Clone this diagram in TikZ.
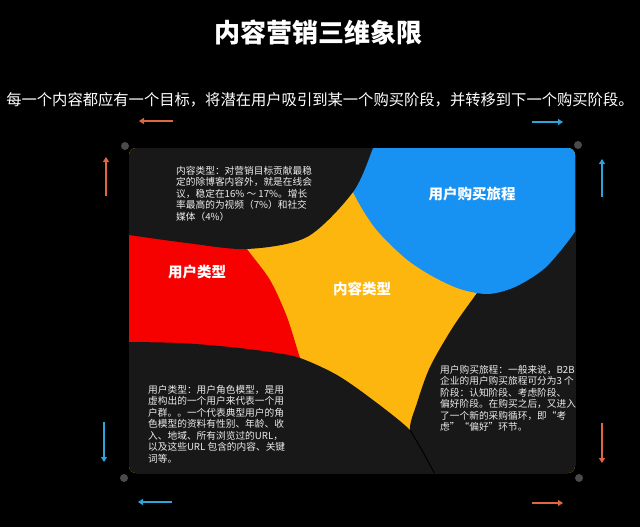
\documentclass[tikz,border=0pt]{standalone}
\usepackage{fontspec}
\setmainfont{Noto Sans CJK SC}
\usetikzlibrary{arrows.meta}
\definecolor{panelc}{HTML}{181818}
\definecolor{yelc}{HTML}{FDB60D}
\definecolor{redc}{HTML}{F70000}
\definecolor{bluec}{HTML}{1791F2}
\definecolor{arrOr}{HTML}{E0663E}
\definecolor{arrBl}{HTML}{2EA3DC}
\definecolor{dotc}{HTML}{4A4A4A}
\definecolor{txtc}{HTML}{EDEDED}
\begin{document}
\begin{tikzpicture}[x=1pt,y=-1pt,
  lbl/.style={text=white,font=\fontsize{14.5}{16}\selectfont\bfseries,inner sep=0},
  blk/.style={text=txtc,font=\fontsize{9.7}{11.5}\selectfont,align=left,anchor=north west,inner sep=0},
  arr/.style={line width=1.6pt,-{Triangle[length=5pt,width=6pt]}},
  dotn/.style={circle,fill=dotc,minimum size=8pt,inner sep=0}]
\useasboundingbox (0,0) rectangle (640,527);
\fill[black] (0,0) rectangle (640,527);

% title and subtitle
\node[text=white,font=\fontsize{26}{30}\selectfont\bfseries,inner sep=0] (title) at (318,32) {内容营销三维象限};
\node[text=white,font=\fontsize{15.3}{18}\selectfont,inner sep=0] (sub) at (320,100) {每一个内容都应有一个目标，将潜在用户吸引到某一个购买阶段，并转移到下一个购买阶段。};

% panel
\fill[panelc,rounded corners=7pt] (129,148) rectangle (575,473);
\begin{scope}
\clip[rounded corners=7pt] (129,148) rectangle (575,473);
\fill[yelc] (120,140) rectangle (590,480);
% red
\fill[redc] (120,200) -- (240,200) -- plot[smooth] coordinates {(240,236) (247,249) (270,280) (287,317) (300,358) (310,385)} -- (120,385) -- cycle;
% dark bottom right
\fill[panelc] (495,200) -- (489,276) -- plot[smooth] coordinates {(489,276) (477,293) (453,327) (430,367) (417,403) (410,430) (423,452) (438,480)} -- (590,480) -- (590,200) -- cycle;
% blue
\fill[bluec] (330,140) -- (590,140) -- (590,215) -- plot[smooth] coordinates {(584,215) (572,236) (545,268) (515,287) (488,294) (460,289) (432,276) (405,258) (375,228) (353,192) (343,160)} -- cycle;
% dark top left
\fill[panelc] (120,140) -- (120,235) -- plot[smooth] coordinates {(129,235) (187,243) (247,249) (307,237) (353,192) (373,148) (376,140)} -- cycle;
% dark bottom left
\fill[panelc] (120,342) -- plot[smooth] coordinates {(129,342) (180,343) (230,347) (270,352) (300,358) (337,375) (373,400) (410,430) (423,452) (438,480)} -- (120,480) -- cycle;
\draw[black,line width=1pt] plot[smooth] coordinates {(410,430) (423,452) (438,480)};
\end{scope}

% labels
\node[lbl] (uType) at (197,272) {用户类型};
\node[lbl] (cType) at (362,289) {内容类型};
\node[lbl] (journey) at (472,194) {用户购买旅程};

% text blocks
\node[blk] (b1) at (176,166) {内容类型：对营销目标贡献最稳\\定的除博客内容外，就是在线会\\议，稳定在16\% ～ 17\%。增长\\率最高的为视频（7\%）和社交\\媒体（4\%）};
\node[blk] (b2) at (148,385) {用户类型：用户角色模型，是用\\虚构出的一个用户来代表一个用\\户群。。一个代表典型用户的角\\色模型的资料有性别、年龄、收\\入、地域、所有浏览过的URL，\\以及这些URL 包含的内容、关键\\词等。};
\node[blk] (b3) at (440,365) {用户购买旅程：一般来说，B2B\\企业的用户购买旅程可分为3 个\\阶段：认知阶段、考虑阶段、\\偏好阶段。在购买之后，又进入\\了一个新的采购循环，即“考\\虑”“偏好”环节。};

% corner dots
\node[dotn] (d1) at (125,146) {};
\node[dotn] (d2) at (578,145) {};
\node[dotn] (d3) at (124,478) {};
\node[dotn] (d4) at (579,478) {};

% arrows
\coordinate (a1s) at (173,121); \coordinate (a1e) at (139,121);
\coordinate (a2s) at (532,122); \coordinate (a2e) at (563,122);
\coordinate (a3s) at (106,196); \coordinate (a3e) at (106,157);
\coordinate (a4s) at (602,197); \coordinate (a4e) at (602,159);
\coordinate (a5s) at (104,422); \coordinate (a5e) at (104,462);
\coordinate (a6s) at (602,423); \coordinate (a6e) at (602,463);
\coordinate (a7s) at (172,502); \coordinate (a7e) at (138,502);
\coordinate (a8s) at (532,503); \coordinate (a8e) at (563,503);
\draw[arr,arrOr] (a1s) -- (a1e);
\draw[arr,arrBl] (a2s) -- (a2e);
\draw[arr,arrOr] (a3s) -- (a3e);
\draw[arr,arrBl] (a4s) -- (a4e);
\draw[arr,arrBl] (a5s) -- (a5e);
\draw[arr,arrOr] (a6s) -- (a6e);
\draw[arr,arrBl] (a7s) -- (a7e);
\draw[arr,arrOr] (a8s) -- (a8e);
\end{tikzpicture}
\end{document}
